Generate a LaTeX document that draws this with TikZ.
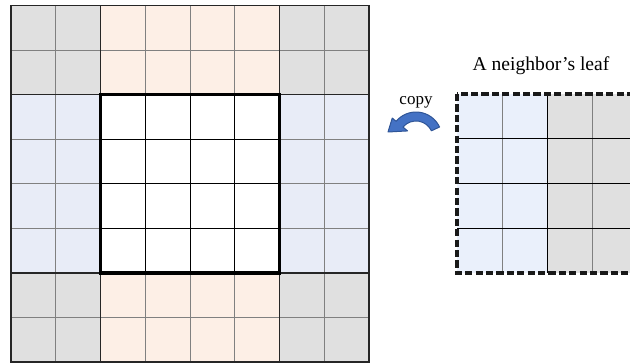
\documentclass[tikz,border=0pt]{standalone}
\usepackage{fontspec}
\setmainfont{Liberation Serif}
\definecolor{ghostgray}{HTML}{E0E0E0}
\definecolor{ghostpeach}{HTML}{FDEFE6}
\definecolor{ghostblue}{HTML}{E8ECF7}
\definecolor{leafblue}{HTML}{EAF0FB}
\definecolor{arrowfill}{HTML}{4472C4}
\definecolor{arrowedge}{HTML}{2F5597}
\begin{document}
\begin{tikzpicture}[x=0.5pt,y=-0.5pt,
  cellgrid/.style={draw=black!50,line width=0.45pt},
  innergrid/.style={draw=black,line width=0.5pt},
  blockedge/.style={draw=black!85,line width=0.9pt},
  innerblock/.style={draw=black,line width=1.7pt},
  leafborder/.style={draw=black!90,line width=1.6pt,dash pattern=on 3.6pt off 1.6pt},
  caption/.style={inner sep=0pt,anchor=base}]
\useasboundingbox (0,0) rectangle (630,363);
\clip (0,0) rectangle (630,363);
% leaf with its ghost layer
\begin{scope}[shift={(11,5.5)},xscale=44.75,yscale=44.55]
  \foreach \cx/\cy in {0/0,6/0,0/6,6/6}
    \fill[ghostgray] (\cx,\cy) rectangle ++(2,2);
  \foreach \cy in {0,6}
    \fill[ghostpeach] (2,\cy) rectangle ++(4,2);
  \foreach \cx in {0,6}
    \fill[ghostblue] (\cx,2) rectangle ++(2,4);
  \foreach \k in {1,...,7} {
    \draw[cellgrid] (\k,0) -- (\k,8);
    \draw[cellgrid] (0,\k) -- (8,\k);
  }
  \foreach \k in {3,4,5} {
    \draw[innergrid] (\k,2) -- (\k,6);
    \draw[innergrid] (2,\k) -- (6,\k);
  }
  \foreach \k in {2,6} {
    \draw[blockedge] (\k,0) -- (\k,8);
    \draw[blockedge] (0,\k) -- (8,\k);
  }
  \draw[blockedge] (0,0) rectangle (8,8);
  \draw[innerblock] (2,2) rectangle (6,6);
\end{scope}
% neighbor leaf
\begin{scope}[shift={(457,94)},xscale=45,yscale=44.75]
  \fill[leafblue] (0,0) rectangle (2,4);
  \fill[ghostgray] (2,0) rectangle (4,4);
  \foreach \k in {1,3}
    \draw[cellgrid] (\k,0) -- (\k,4);
  \foreach \r in {1,2,3}
    \draw[innergrid] (0,\r) -- (4,\r);
  \draw[innergrid] (2,0) -- (2,4);
  \draw[leafborder] (0,0) rectangle (4,4);
\end{scope}
\node[caption,font=\fontsize{9.8}{11}\selectfont] (leaftitle) at (541,71) {A neighbor’s leaf};
\node[caption,font=\fontsize{8.5}{10}\selectfont] (copylabel) at (416,105) {copy};
% curved copy arrow
\begin{scope}[shift={(416,138)},yscale=-1]
  \filldraw[fill=arrowfill,draw=arrowedge,line width=0.5pt,line join=round]
    (25:26) arc[start angle=25,end angle=140,radius=26]
    -- (140:31) -- (-28,6) -- (140:11) -- (140:17)
    arc[start angle=140,end angle=25,radius=17] -- cycle;
\end{scope}
\end{tikzpicture}
\end{document}
